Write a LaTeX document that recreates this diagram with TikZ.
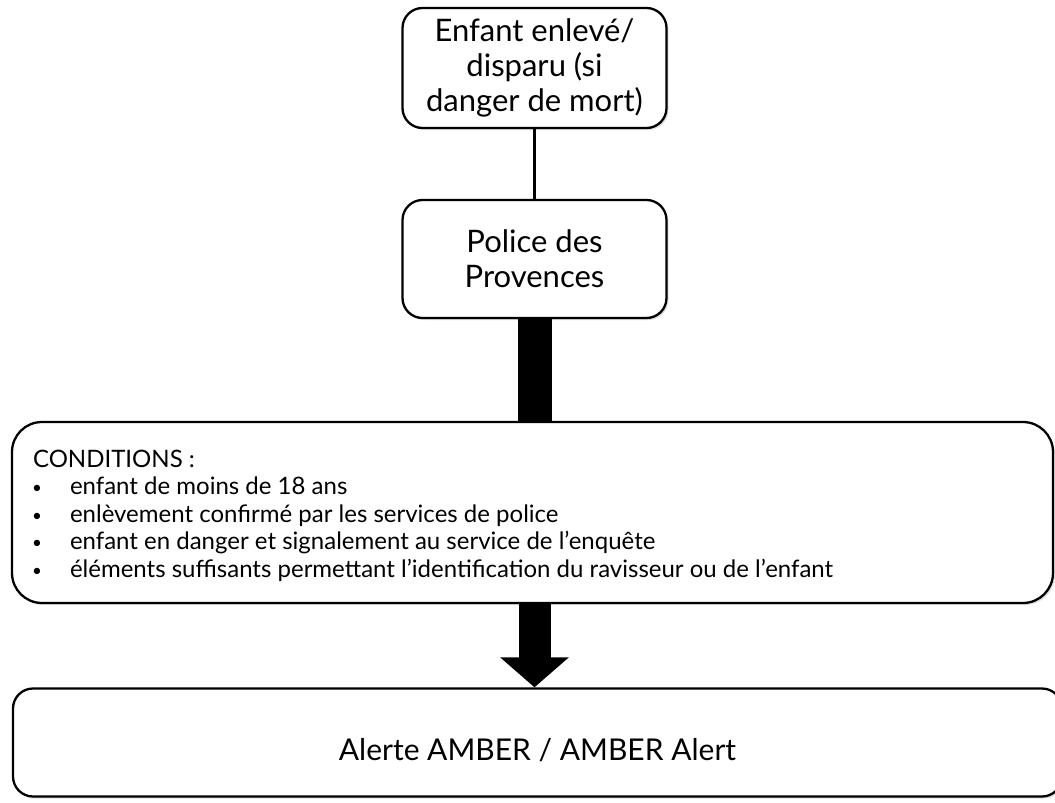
\documentclass[tikz,border=0pt]{standalone}
\usepackage{fontspec}
\setmainfont{Lato}
\usetikzlibrary{arrows.meta,shadows}
\tikzset{>=latex}
\newcommand{\condbullet}{\makebox[37pt][l]{\hspace{-1pt}\raisebox{1pt}{\fontsize{17}{17}\selectfont•}}}
\begin{document}
\begin{tikzpicture}[x=1pt,y=-1pt]
  \tikzstyle{box}=[draw=black, line width=2.3pt, fill=white, rounded corners=20pt,
    drop shadow={opacity=0.25, shadow xshift=2pt, shadow yshift=-2pt}]
  \tikzstyle{link}=[draw=black, line width=2.6pt]
  \useasboundingbox (0,0) rectangle (1055,803);

  \node[box, minimum width=264pt, minimum height=120pt, align=center,
        font=\fontsize{31}{35}\selectfont] (enfant) at (534.5,68)
        {Enfant enlevé/\\disparu (si\\danger de mort)};
  \node[box, minimum width=264pt, minimum height=118pt, align=center,
        font=\fontsize{31}{35}\selectfont] (police) at (534.5,259)
        {Police des\\Provences};
  \node[box, rounded corners=30pt, minimum width=1041pt, minimum height=181pt] (conditions) at (532.5,512.5) {};
  \node[anchor=north west, align=left, inner sep=0pt,
        font=\fontsize{24}{27.5}\selectfont] (condlist) at ([xshift=22pt,yshift=-29pt]conditions.north west)
        {CONDITIONS :\\
         \condbullet enfant de moins de 18 ans\\
         \condbullet enlèvement confirmé par les services de police\\
         \condbullet enfant en danger et signalement au service de l’enquête\\
         \condbullet éléments suffisants permettant l’identification du ravisseur ou de l’enfant};
  \node[box, minimum width=1049pt, minimum height=108pt,
        font=\fontsize{30}{36}\selectfont] (alerte) at (537.5,742.5)
        {\raisebox{-8pt}[\height][\depth]{Alerte AMBER / AMBER Alert}};

  \draw[link] (enfant) -- (police);
  \draw[line width=34pt] (police.south) -- (police.south |- conditions.north);
  \draw[line width=32pt, -{Triangle[width=67pt,length=30pt]}]
        (police.south |- conditions.south) -- (police.south |- alerte.north);
\end{tikzpicture}
\end{document}
